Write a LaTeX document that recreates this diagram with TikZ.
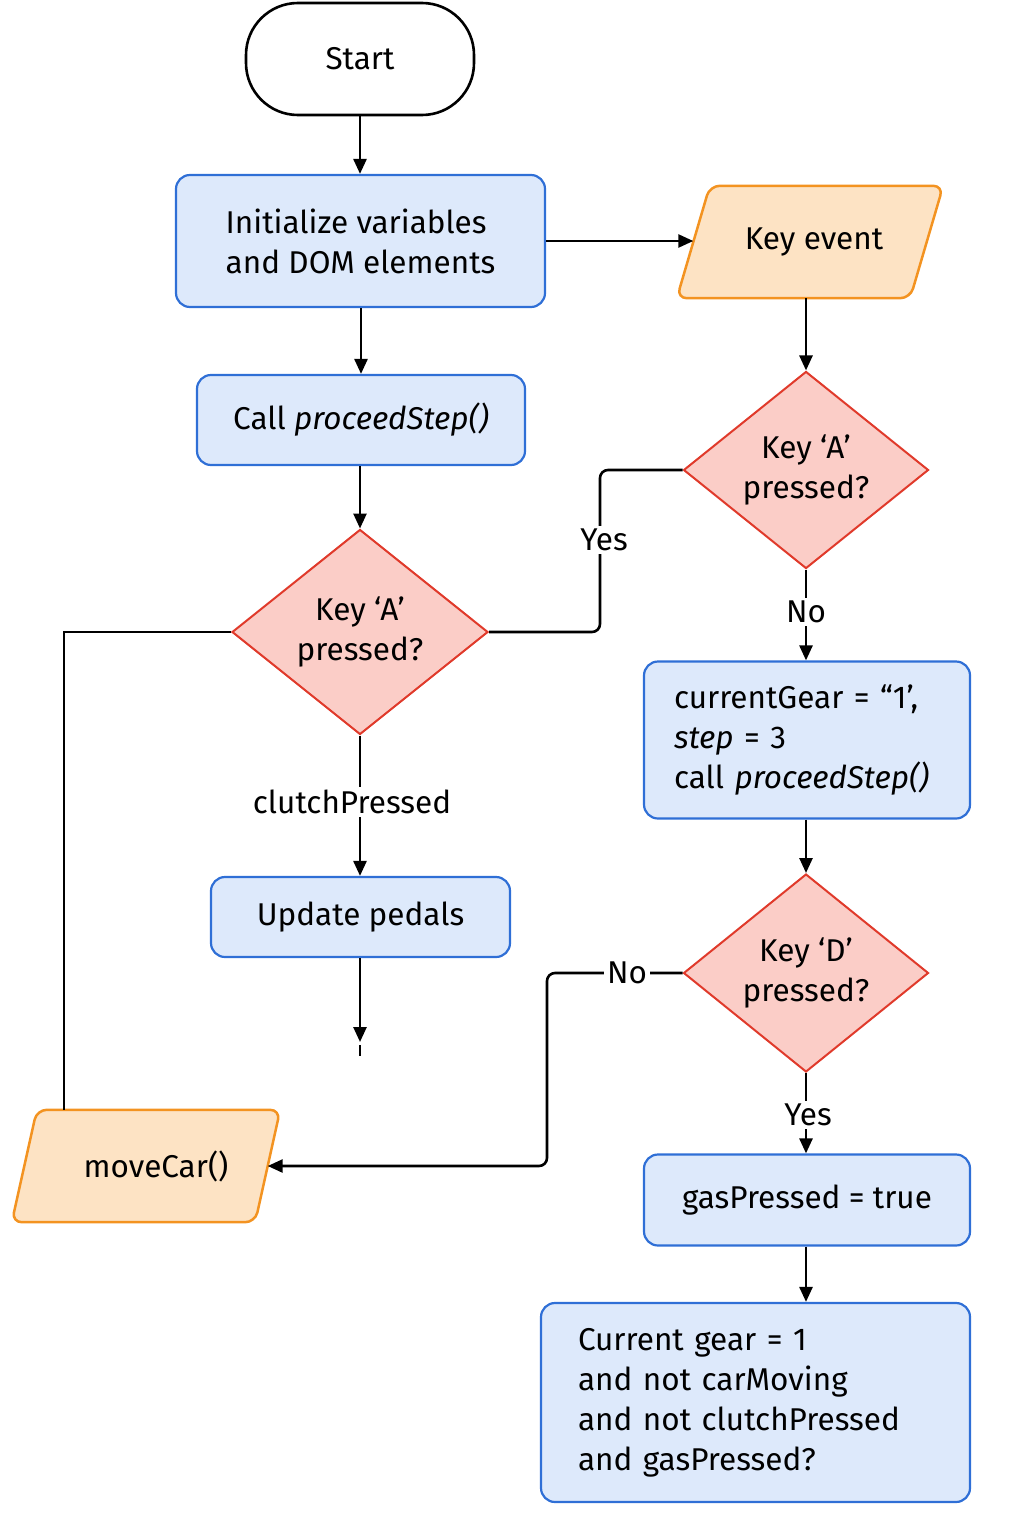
\documentclass[tikz,border=0pt]{standalone}
\usepackage{fontspec}
\setmainfont{Fira Sans}
\usetikzlibrary{shapes.geometric,arrows.meta,backgrounds}
\definecolor{blueF}{HTML}{DDE9FB}
\definecolor{blueS}{HTML}{2F6FD6}
\definecolor{orF}{HTML}{FDE3C4}
\definecolor{orS}{HTML}{F39321}
\definecolor{redF}{HTML}{FBCDC7}
\definecolor{redS}{HTML}{E03A2B}
\begin{document}
\begin{tikzpicture}[x=1pt,y=-1pt,
  base/.style={font=\fontsize{31.5}{40}\selectfont, align=center, text=black},
  proc/.style={base, rectangle, rounded corners=14pt, draw=blueS, fill=blueF, line width=2.2pt},
  dec/.style={base, diamond, draw=redS, fill=redF, line width=2pt, inner sep=0pt},
  iobox/.style={base, rectangle, inner sep=0pt},
  iopath/.style={draw=orS, fill=orF, line width=2.5pt, rounded corners=10pt},
  arr/.style={line width=2.6pt, -{Triangle[length=15pt,width=13pt]}},
  ln/.style={line width=2.6pt},
  lbl/.style={base, fill=white, inner sep=3pt}]
\useasboundingbox (0,0) rectangle (1024,1536);

% nodes
\node[base, draw=black, fill=white, line width=2.6pt, rounded corners=52pt,
  minimum width=228pt, minimum height=112pt] (start) at (360,59) {Start};
\node[proc, align=left, minimum width=369pt, minimum height=132pt] (init) at (360.5,241)
  {Initialize variables\\and DOM elements};
\node[proc, minimum width=328pt, minimum height=90pt] (call) at (361,420)
  {Call \textit{proceedStep()}};
\node[dec, minimum width=256pt, minimum height=205pt] (d1) at (360,632) {Key ‘A’\\pressed?};
\node[proc, minimum width=299pt, minimum height=80pt] (upd) at (360.5,917) {Update pedals};

\node[iobox, minimum width=233pt, minimum height=112pt] (key) at (810,242) {\hspace*{8pt}Key event};
\node[dec, minimum width=245pt, minimum height=197pt] (d2) at (806,470) {Key ‘A’\\pressed?};
\node[proc, align=left, text width=266pt, inner xsep=30pt, minimum height=157pt] (cg) at (807,740)
  {currentGear = “1’,\\\textit{step} = 3\\call \textit{proceedStep()}};
\node[dec, minimum width=245pt, minimum height=198pt] (d3) at (806,973) {Key ‘D’\\pressed?};
\node[proc, minimum width=326pt, minimum height=91pt] (gas) at (807,1200) {gasPressed = true};
\node[proc, align=left, text width=355pt, inner xsep=37pt, minimum height=199pt] (big) at (755.5,1402.5)
  {Current gear = 1\\and not carMoving\\and not clutchPressed\\and gasPressed?};

\node[iobox, minimum width=243pt, minimum height=112pt] (mc) at (146,1166) {\hspace*{20pt}moveCar()};

\begin{pgfonlayer}{background}
  \path[iopath] ([xshift=16.5pt]key.north west) -- ([xshift=16.5pt]key.north east)
    -- ([xshift=-16.5pt]key.south east) -- ([xshift=-16.5pt]key.south west) -- cycle;
  \path[iopath] ([xshift=12.5pt]mc.north west) -- ([xshift=12.5pt]mc.north east)
    -- ([xshift=-12.5pt]mc.south east) -- ([xshift=-12.5pt]mc.south west) -- cycle;
\end{pgfonlayer}

% helper coordinates
\coordinate (yx) at (600,0);
\coordinate (lx) at (64,0);
\coordinate (nx) at (547,0);
\coordinate (endc) at (360,1042);
\coordinate (t1) at (360,1045);
\coordinate (t2) at (360,1056);

% connectors
\draw[arr] (start.south) -- (start.south |- init.north);
\draw[arr] (init.east) -- (key.west |- init.east);
\draw[arr] (init.south -| call.north) -- (call.north);
\draw[arr] (call.south -| d1.north) -- (d1.north);
\draw[arr] (d2.north |- key.south) -- (d2.north);

\draw[ln, rounded corners=8pt] (d2.west) -- (d2.west -| yx) -- (d1.east -| yx) -- (d1.east);
\node[lbl] (yes1) at (604,540) {Yes};

\draw[ln] (d1.west) -- (d1.west -| lx) -- (lx |- mc.north);

\draw[arr] (d1.south) -- (upd.north -| d1.south);
\node[lbl] (cp) at (352,802) {clutchPressed};

\draw[arr] (upd.south -| endc) -- (endc);
\draw[ln] (t1) -- (t2);

\draw[arr] (d2.south) -- (cg.north -| d2.south);
\node[lbl] (no1) at (806,612) {No};

\draw[arr] (cg.south -| d3.north) -- (d3.north);

\draw[arr, rounded corners=8pt] (d3.west) -- (d3.west -| nx) -- (nx |- mc.east) -- (mc.east);
\node[lbl] (no2) at (627,973) {No};

\draw[arr] (d3.south) -- (gas.north -| d3.south);
\node[lbl] (yes2) at (808,1115) {Yes};

\draw[arr] (gas.south -| d3.south) -- (big.north -| d3.south);
\end{tikzpicture}
\end{document}
